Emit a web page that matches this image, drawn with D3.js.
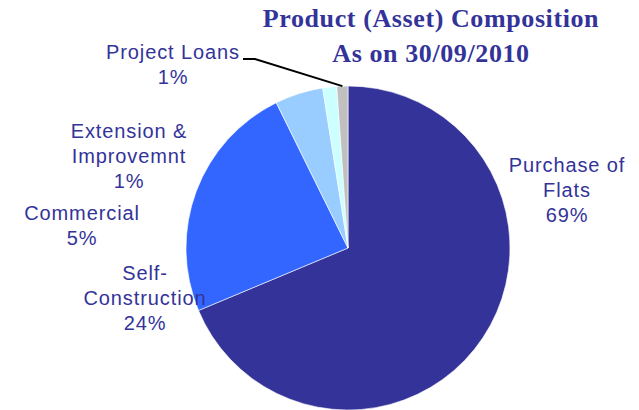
<!DOCTYPE html>
<html>
<head>
<meta charset="utf-8">
<script src="https://cdn.jsdelivr.net/npm/d3@7"></script>
<style>
    body { margin: 0; background: #fff; }
    svg { display: block; }
</style>
</head>
<body>
<div id="chart"></div>
<script>
"use strict";

// Data
const categories = ["Purchase of Flats", "Self-Construction", "Commercial", "Extension & Improvemnt", "Project Loans"];
const shares = [68.7, 24.0, 4.8, 1.4, 1.1];
const pct_labels = ["69%", "24%", "5%", "1%", "1%"];
const label_lines = [["Purchase of", "Flats"], ["Self-", "Construction"], ["Commercial"], ["Extension &", "Improvemnt"], ["Project Loans"]];
const slice_colors = ["#333399", "#3366ff", "#99ccff", "#ccffff", "#c0c0c0"];
const title_lines = ["Product (Asset) Composition", "As on 30/09/2010"];

const width = 639, height = 410;
const center = {x: 348, y: 248};
const radius = 162;
const text_color = "#333399";

// label anchor (centre x, first baseline y)
const label_pos = [
    {x: 567, y: 172},
    {x: 145, y: 280},
    {x: 82, y: 220},
    {x: 129, y: 138},
    {x: 173, y: 59}
];
const line_step = 25;

const svg = d3.select("#chart").append("svg")
    .attr("width", width)
    .attr("height", height);

svg.append("rect")
    .attr("width", width)
    .attr("height", height)
    .attr("fill", "white");

const pie = d3.pie().sort(null).value(d => d.value);
const arcs = pie(categories.map((c, i) => ({name: c, value: shares[i], index: i})));

const arc = d3.arc().innerRadius(0).outerRadius(radius);

const g = svg.append("g")
    .attr("transform", "translate(" + center.x + "," + center.y + ")");

g.selectAll("path.slice")
    .data(arcs)
    .enter()
    .append("path")
    .attr("class", "slice")
    .attr("d", arc)
    .attr("fill", d => slice_colors[d.data.index])
    .attr("stroke", "#ffffff")
    .attr("stroke-width", 0.6);

// Leader line for the small "Project Loans" slice
const loans = arcs[4];
const mid = (loans.startAngle + loans.endAngle) / 2;
const edge = [center.x + radius * Math.sin(mid), center.y - radius * Math.cos(mid)];
const leader = [[243, 59], [255, 59], edge];
svg.append("path")
    .attr("d", d3.line()(leader))
    .attr("fill", "none")
    .attr("stroke", "#000")
    .attr("stroke-width", 2);

// Category labels
label_lines.forEach(function (lines, i) {
    const all_lines = lines.concat([pct_labels[i]]);
    const t = svg.append("text")
        .attr("text-anchor", "middle")
        .attr("font-family", "'Liberation Sans', Arial, sans-serif")
        .attr("font-size", 20)
        .attr("letter-spacing", 0.9)
        .attr("fill", text_color);
    all_lines.forEach(function (line, j) {
        t.append("tspan")
            .attr("x", label_pos[i].x)
            .attr("y", label_pos[i].y + j * line_step)
            .text(line);
    });
});

// Title
svg.selectAll("text.title")
    .data(title_lines)
    .enter()
    .append("text")
    .attr("class", "title")
    .attr("x", 431)
    .attr("y", (d, i) => 27 + i * 35)
    .attr("text-anchor", "middle")
    .attr("font-family", "'Liberation Serif', 'Times New Roman', serif")
    .attr("font-weight", "bold")
    .attr("font-size", 26)
    .attr("letter-spacing", 0.6)
    .attr("fill", text_color)
    .text(d => d);
</script>
</body>
</html>
